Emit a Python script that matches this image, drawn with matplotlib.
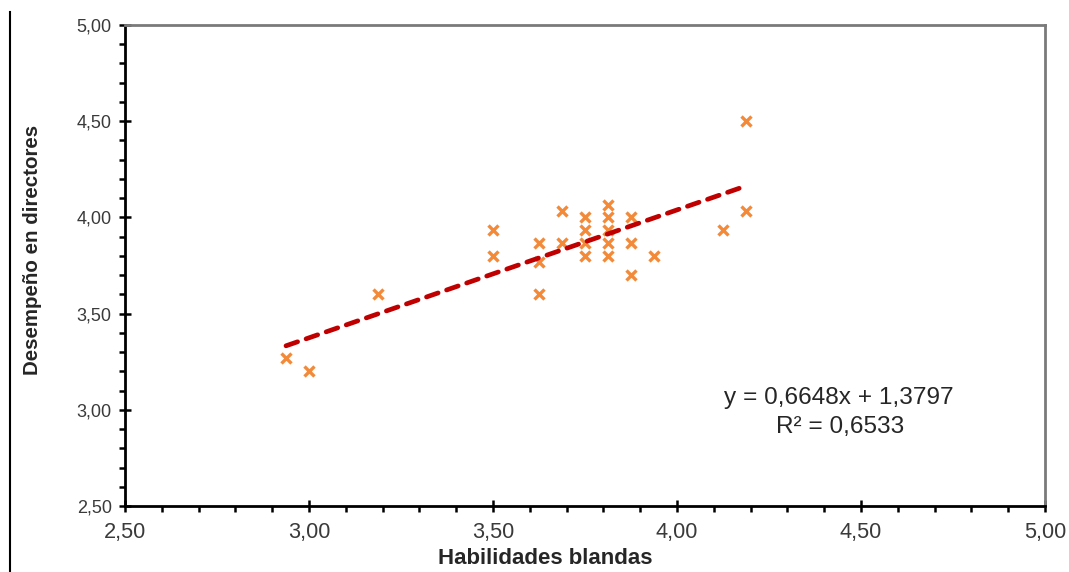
import numpy as np
import matplotlib
matplotlib.use("Agg")
import matplotlib.pyplot as plt
from matplotlib.ticker import MultipleLocator, FuncFormatter
from matplotlib.lines import Line2D

# Data
habilidades = [2.9375, 3.0, 3.1875, 3.5, 3.5, 3.625, 3.625, 3.625, 3.6875, 3.6875,
               3.75, 3.75, 3.75, 3.75, 3.8125, 3.8125, 3.8125, 3.8125, 3.8125,
               3.875, 3.875, 3.875, 3.9375, 4.125, 4.1875, 4.1875]
desempeno = [3.267, 3.2, 3.6, 3.933, 3.8, 3.867, 3.767, 3.6, 4.033, 3.867,
             4.0, 3.933, 3.867, 3.8, 4.067, 4.0, 3.933, 3.867, 3.8,
             4.0, 3.867, 3.7, 3.8, 3.933, 4.5, 4.033]
slope = 0.6648
intercept = 1.3797
r2 = 0.6533
x_label = "Habilidades blandas"
y_label = "Desempeño en directores"

plt.rcParams['font.family'] = ['Liberation Sans', 'DejaVu Sans']

fig = plt.figure(figsize=(10.69, 5.72), dpi=100)
ax = fig.add_axes([125/1069, 66/572, 920/1069, 481/572])

ax.plot(habilidades, desempeno, linestyle='none', marker='x', color='#F28A3A',
        markersize=7, markeredgewidth=2.4, zorder=3)

xs = np.array([min(habilidades), max(habilidades)])
ax.plot(xs, slope * xs + intercept, color='#C00000', linewidth=3.4,
        linestyle=(0, (2.6, 1.9)), dash_capstyle='round', zorder=4)

ax.set_xlim(2.5, 5.0)
ax.set_ylim(2.5, 5.0)
ax.xaxis.set_major_locator(MultipleLocator(0.5))
ax.yaxis.set_major_locator(MultipleLocator(0.5))
ax.xaxis.set_minor_locator(MultipleLocator(0.1))
ax.yaxis.set_minor_locator(MultipleLocator(0.1))
fmt = FuncFormatter(lambda v, p: f"{v:.2f}".replace('.', ','))
ax.xaxis.set_major_formatter(fmt)
ax.yaxis.set_major_formatter(fmt)

ax.tick_params(which='major', direction='inout', length=9, width=1.8, color='black')
ax.tick_params(which='minor', direction='out', length=4, width=1.8, color='black')
ax.tick_params(axis='x', which='major', labelsize=15.7, labelcolor='#3a3a3a', pad=7)
ax.tick_params(axis='y', which='major', labelsize=13, labelcolor='#3a3a3a', pad=5)

for s in ['left', 'bottom']:
    ax.spines[s].set_color('black')
    ax.spines[s].set_linewidth(2.0)
for s in ['top', 'right']:
    ax.spines[s].set_color('#7a7a7a')
    ax.spines[s].set_linewidth(2.0)

fig.text(545/1069, 1 - 558/572, x_label, fontsize=16, fontweight='bold',
         color='#262626', ha='center', va='center')
fig.text(33/1069, 1 - 250/572, y_label, rotation=90, fontsize=14.8, fontweight='bold',
         color='#262626', ha='center', va='center')

eq_text = f"y = {slope:.4f}x + {intercept:.4f}".replace('.', ',')
r_text = f"R² = {r2:.4f}".replace('.', ',')
fig.text(839/1069, 1 - 398/572, eq_text, fontsize=17.6, color='#262626', ha='center', va='center')
fig.text(840/1069, 1 - 427/572, r_text, fontsize=17.6, color='#262626', ha='center', va='center')

fig.add_artist(Line2D([10/1069, 10/1069], [0, 1 - 12/572], transform=fig.transFigure,
                      color='black', linewidth=1.5))

fig.savefig("out.png", dpi=100)
